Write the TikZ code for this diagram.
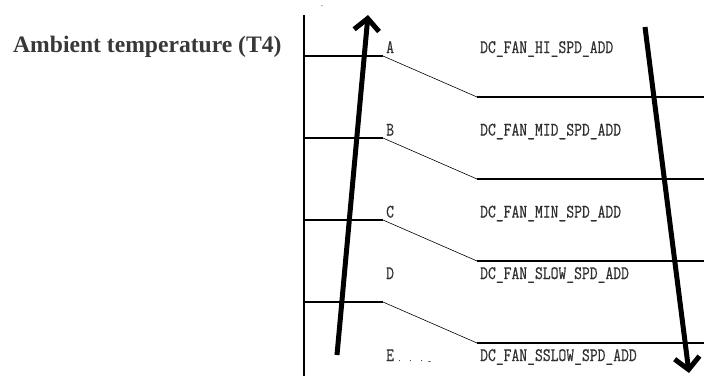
\documentclass[tikz,border=0pt]{standalone}
\usepackage{fontspec}
\setmainfont{Liberation Serif}
\newfontfamily\codefont[FakeStretch=0.8, FakeBold=0.6]{Latin Modern Mono}
\usetikzlibrary{arrows.meta}
\definecolor{titlegray}{HTML}{383838}
\definecolor{textgray}{HTML}{303030}
\begin{document}
\begin{tikzpicture}[x=1pt, y=-1pt,
        every node/.style={inner sep=0pt},
        lbl/.style={anchor=base west, font=\codefont\fontsize{19}{19}\selectfont, text=textgray},
        level/.style={line width=1.6pt},
        slope/.style={line width=0.6pt},
        axis/.style={line width=1.8pt},
        trend/.style={line width=5pt, -{Straight Barb[length=12pt, width=25pt]}}
    ]
    \useasboundingbox (0,0) rectangle (704,376);

    % title
    \node (title) [anchor=base west, font=\bfseries\fontsize{23.6}{23.6}\selectfont, text=titlegray] at (13,52) {Ambient temperature (T4)};
    \node (dot) [font=\fontsize{8}{8}\selectfont] at (322,6) {.};

    % axis
    \coordinate (ax-top) at (304,15);
    \coordinate (ax-bot) at (304,376);
    \draw [axis] (ax-top) -- (ax-bot);

    % level points
    \coordinate (l1) at (304,56);  \coordinate (k1) at (383,56);
    \coordinate (l2) at (304,138); \coordinate (k2) at (383,138);
    \coordinate (l3) at (304,220); \coordinate (k3) at (383,220);
    \coordinate (l4) at (304,302); \coordinate (k4) at (383,302);
    \coordinate (m1) at (477,97);  \coordinate (r1) at (704,97);
    \coordinate (m2) at (477,179); \coordinate (r2) at (704,179);
    \coordinate (m3) at (477,261); \coordinate (r3) at (704,261);
    \coordinate (m4) at (477,343); \coordinate (r4) at (704,343);

    \draw [level] (l1) -- (k1);
    \draw [level] (l2) -- (k2);
    \draw [level] (l3) -- (k3);
    \draw [level] (l4) -- (k4);
    \draw [slope] (k1) -- (m1);
    \draw [slope] (k2) -- (m2);
    \draw [slope] (k3) -- (m3);
    \draw [slope] (k4) -- (m4);
    \draw [level] (m1) -- (r1);
    \draw [level] (m2) -- (r2);
    \draw [level] (m3) -- (r3);
    \draw [level] (m4) -- (r4);

    % zone letters
    \node (zA) [lbl] at (386,53) {A};
    \node (zB) [lbl] at (386,135.5) {B};
    \node (zC) [lbl] at (386,217.5) {C};
    \node (zD) [lbl] at (386,279) {D};
    \node (zE) [lbl] at (386,361) {E{\fontsize{7}{7}\selectfont\hspace{4pt}.\hspace{8pt}.\hspace{8pt}.\hspace{5pt}\_}};

    % parameter names
    \node (sA) [lbl] at (480,53) {DC\_FAN\_HI\_SPD\_ADD};
    \node (sB) [lbl] at (480,135.5) {DC\_FAN\_MID\_SPD\_ADD};
    \node (sC) [lbl] at (480,217.5) {DC\_FAN\_MIN\_SPD\_ADD};
    \node (sD) [lbl] at (480,279) {DC\_FAN\_SLOW\_SPD\_ADD};
    \node (sE) [lbl] at (480,361) {DC\_FAN\_SSLOW\_SPD\_ADD};

    % rising / falling arrows
    \coordinate (up-tail) at (337,355);
    \coordinate (up-tip) at (368,15);
    \coordinate (dn-tail) at (645,27);
    \coordinate (dn-tip) at (689,373);
    \draw [trend] (up-tail) -- (up-tip);
    \draw [trend] (dn-tail) -- (dn-tip);
\end{tikzpicture}
\end{document}
